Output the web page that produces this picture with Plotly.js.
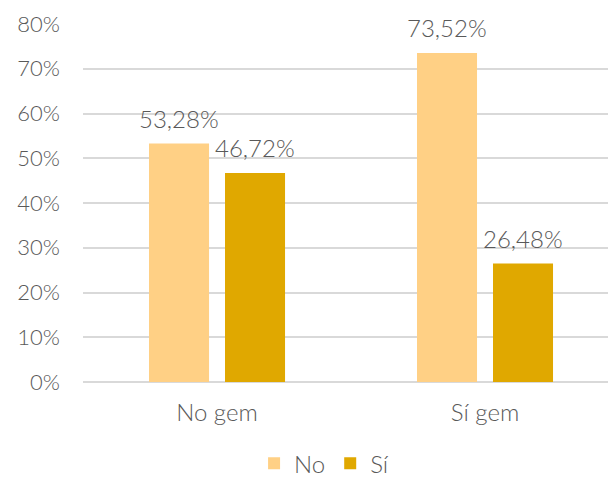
<!DOCTYPE html>
<html>
<head>
<meta charset="utf-8">
<script src="https://cdn.plot.ly/plotly-3.0.1.min.js"></script>
<style>html,body{margin:0;padding:0;background:#fff;}#chart{width:608px;height:477px;}</style>
</head>
<body>
<div id="chart"></div>
<script>
const categories = ["No gem", "Sí gem"];
const seriesNames = ["No", "Sí"];
const valuesNo = [0.5328, 0.7352];
const valuesSi = [0.4672, 0.2648];
const yTicks = [0, 0.1, 0.2, 0.3, 0.4, 0.5, 0.6, 0.7, 0.8];

const fam = "Lato, 'Open Sans', sans-serif";
const tickFont = {family: fam, color: "#595959", size: 22, weight: 300};
const labelFont = {family: fam, color: "#595959", size: 24, weight: 300};
const xIdx = categories.map((c, i) => i);

const barW = 0.224;
const offNo = -0.2537, offSi = 0.0299;

const traces = [
  {type: "bar", name: seriesNames[0], x: xIdx, y: valuesNo, width: barW, offset: offNo,
   marker: {color: "#FFD085"}, hoverinfo: "none"},
  {type: "bar", name: seriesNames[1], x: xIdx, y: valuesSi, width: barW, offset: offSi,
   marker: {color: "#E0A800"}, hoverinfo: "none"}
];

const fmt = v => (v * 100).toFixed(2).replace(".", ",") + "%";
const annotations = [];
[[valuesNo, offNo], [valuesSi, offSi]].forEach(([vals, off]) => {
  vals.forEach((v, i) => {
    annotations.push({x: xIdx[i] + off + barW / 2, y: v, xref: "x", yref: "y", text: fmt(v),
      showarrow: false, yanchor: "bottom", xanchor: "center", yshift: 9, font: labelFont});
  });
});

const layout = {
  width: 608, height: 477,
  margin: {l: 83, r: 0, t: 24, b: 95},
  paper_bgcolor: "#fff", plot_bgcolor: "#fff",
  separators: ",.",
  font: tickFont,
  barmode: "group",
  showlegend: true,
  annotations: annotations,
  legend: {orientation: "h", x: 0.533, xref: "container", xanchor: "center",
           y: 0.028, yref: "container", yanchor: "middle", font: labelFont,
           traceorder: "normal", itemwidth: 30},
  xaxis: {range: [-0.5, 1.459], tickvals: xIdx, ticktext: categories, showgrid: false,
          zeroline: false, showline: false, ticks: "", tickfont: labelFont, ticklabelstandoff: 14},
  yaxis: {range: [0, 0.8], tickvals: yTicks, tickformat: ".0%", showgrid: true,
          gridcolor: "#D9D9D9", gridwidth: 2, zeroline: true, zerolinecolor: "#D9D9D9", zerolinewidth: 2,
          showline: false, ticks: "", tickfont: tickFont, ticklabelstandoff: 22}
};

Plotly.newPlot("chart", traces, layout, {displayModeBar: false, staticPlot: true});
</script>
</body>
</html>
